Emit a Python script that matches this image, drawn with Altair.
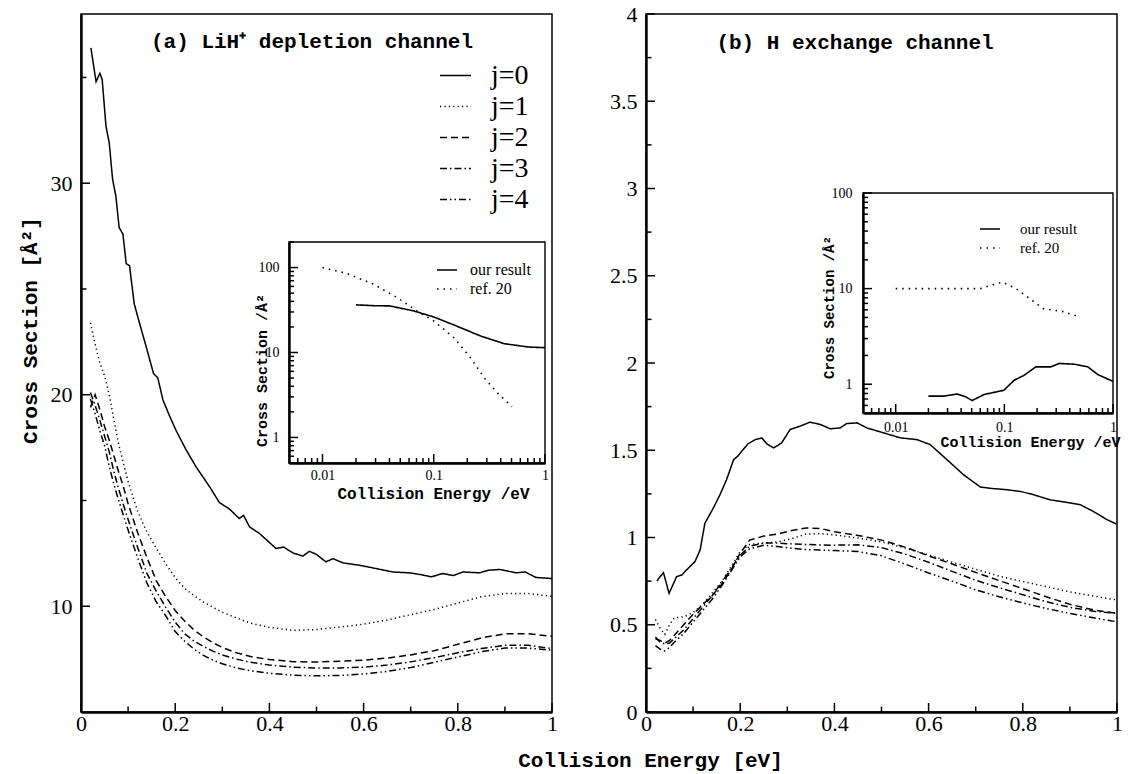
import altair as alt
import pandas as pd

# ---------------- data ----------------
series_names = ["j=0", "j=1", "j=2", "j=3", "j=4"]
inset_names = ["our result", "ref. 20"]

# (a) LiH+ depletion channel
a_x0 = [0.021, 0.032, 0.040, 0.045, 0.053, 0.060, 0.067, 0.074, 0.081, 0.089,
        0.096, 0.103, 0.113, 0.124, 0.138, 0.154, 0.163, 0.174, 0.188, 0.202,
        0.223, 0.244, 0.273, 0.294, 0.315, 0.336, 0.345, 0.358, 0.379, 0.414,
        0.430, 0.450, 0.471, 0.485, 0.499, 0.520, 0.535, 0.556, 0.591, 0.627,
        0.662, 0.697, 0.720, 0.744, 0.768, 0.790, 0.811, 0.846, 0.865, 0.889,
        0.924, 0.943, 0.966, 1.000]
a_j0 = [36.4, 34.8, 35.2, 34.9, 32.7, 31.9, 30.2, 29.4, 27.9, 27.6,
        26.2, 26.1, 24.3, 23.4, 22.3, 21.0, 20.8, 19.75, 19.0, 18.3,
        17.4, 16.6, 15.65, 14.9, 14.6, 14.15, 14.3, 13.75, 13.44, 12.73,
        12.8, 12.52, 12.37, 12.6, 12.46, 12.1, 12.25, 12.05, 11.94, 11.78,
        11.62, 11.58, 11.5, 11.39, 11.55, 11.45, 11.62, 11.58, 11.7, 11.74,
        11.58, 11.62, 11.36, 11.31]
a_x = [0.02, 0.03, 0.04, 0.05, 0.06, 0.07, 0.08, 0.09, 0.10, 0.12, 0.14, 0.16,
       0.18, 0.20, 0.22, 0.24, 0.26, 0.28, 0.30, 0.33, 0.36, 0.40, 0.45, 0.50,
       0.55, 0.60, 0.65, 0.70, 0.75, 0.80, 0.85, 0.90, 0.95, 1.00]
a_j1 = [23.4, 22.4, 21.5, 20.9, 20.0, 18.8, 17.65, 16.75, 15.9, 14.5, 13.5, 12.75,
        12.0, 11.35, 10.85, 10.5, 10.2, 9.95, 9.72, 9.45, 9.2, 9.0, 8.86, 8.9,
        9.02, 9.15, 9.35, 9.6, 9.85, 10.15, 10.45, 10.6, 10.6, 10.47]
a_j2 = [19.4, 20.0, 19.3, 18.5, 17.85, 17.1, 16.35, 15.65, 14.85, 13.5, 12.3, 11.2,
        10.45, 9.8, 9.3, 8.88, 8.55, 8.28, 8.05, 7.8, 7.62, 7.48, 7.38, 7.36,
        7.4, 7.45, 7.55, 7.7, 7.9, 8.2, 8.5, 8.7, 8.7, 8.58]
a_j3 = [20.1, 19.5, 18.8, 18.05, 17.3, 16.35, 15.55, 14.8, 14.1, 12.8, 11.55, 10.7,
        9.95, 9.25, 8.7, 8.35, 8.1, 7.88, 7.7, 7.5, 7.35, 7.22, 7.12, 7.08,
        7.08, 7.12, 7.22, 7.37, 7.57, 7.8, 8.0, 8.15, 8.15, 8.0]
a_j4 = [19.8, 19.1, 18.3, 17.6, 16.6, 15.75, 15.0, 14.3, 13.6, 12.3, 11.1, 10.2,
        9.55, 8.8, 8.35, 7.97, 7.68, 7.45, 7.28, 7.08, 6.95, 6.83, 6.74, 6.71,
        6.73, 6.8, 6.92, 7.1, 7.35, 7.6, 7.85, 8.02, 8.02, 7.92]

# (b) H exchange channel
b_x0 = [0.023, 0.037, 0.049, 0.065, 0.076, 0.086, 0.104, 0.115, 0.125, 0.143,
        0.157, 0.171, 0.186, 0.196, 0.203, 0.217, 0.232, 0.246, 0.256, 0.271,
        0.288, 0.306, 0.327, 0.348, 0.370, 0.391, 0.412, 0.426, 0.448, 0.469,
        0.504, 0.540, 0.575, 0.603, 0.639, 0.674, 0.710, 0.738, 0.766, 0.795,
        0.823, 0.858, 0.894, 0.922, 0.950, 0.979, 0.999]
b_j0 = [0.751, 0.799, 0.680, 0.776, 0.785, 0.814, 0.862, 0.929, 1.082, 1.169,
        1.245, 1.331, 1.446, 1.469, 1.494, 1.538, 1.561, 1.571, 1.538, 1.513,
        1.542, 1.619, 1.638, 1.661, 1.648, 1.623, 1.628, 1.653, 1.657, 1.628,
        1.600, 1.571, 1.561, 1.533, 1.446, 1.360, 1.289, 1.280, 1.274, 1.264,
        1.245, 1.216, 1.201, 1.188, 1.149, 1.102, 1.077]
b_x = [0.02, 0.03, 0.04, 0.05, 0.06, 0.08, 0.10, 0.12, 0.14, 0.16, 0.18, 0.20,
       0.22, 0.25, 0.28, 0.31, 0.34, 0.37, 0.40, 0.45, 0.50, 0.55, 0.60, 0.65,
       0.70, 0.75, 0.80, 0.85, 0.90, 0.95, 1.00]
b_j1 = [0.53, 0.48, 0.445, 0.50, 0.54, 0.545, 0.57, 0.615, 0.68, 0.745, 0.83, 0.92,
        0.96, 0.968, 0.975, 0.994, 1.02, 1.022, 1.015, 0.997, 0.975, 0.94, 0.90, 0.858,
        0.818, 0.778, 0.748, 0.718, 0.688, 0.665, 0.642]
b_j2 = [0.42, 0.41, 0.395, 0.41, 0.44, 0.50, 0.56, 0.615, 0.665, 0.73, 0.81, 0.91,
        0.985, 1.008, 1.02, 1.04, 1.055, 1.052, 1.033, 1.012, 0.985, 0.945, 0.895, 0.848,
        0.80, 0.753, 0.707, 0.66, 0.617, 0.585, 0.565]
b_j3 = [0.43, 0.40, 0.39, 0.395, 0.42, 0.47, 0.535, 0.60, 0.665, 0.74, 0.82, 0.90,
        0.95, 0.968, 0.968, 0.963, 0.96, 0.957, 0.956, 0.958, 0.942, 0.905, 0.858, 0.806,
        0.755, 0.712, 0.672, 0.632, 0.60, 0.578, 0.565]
b_j4 = [0.38, 0.36, 0.35, 0.37, 0.40, 0.45, 0.515, 0.58, 0.645, 0.72, 0.805, 0.89,
        0.935, 0.955, 0.948, 0.938, 0.931, 0.928, 0.925, 0.92, 0.895, 0.848, 0.797, 0.75,
        0.70, 0.66, 0.625, 0.593, 0.565, 0.54, 0.517]

# insets (log-log)
ia_our_x = [0.020, 0.030, 0.040, 0.066, 0.100, 0.152, 0.265, 0.430, 0.710, 1.000]
ia_our_y = [36.4, 35.5, 35.4, 30.9, 26.2, 21.1, 15.6, 12.7, 11.6, 11.4]
ia_ref_x = [0.010, 0.0163, 0.0285, 0.0465, 0.0706, 0.100, 0.152, 0.215, 0.285, 0.377, 0.505]
ia_ref_y = [100, 85.8, 64, 44.6, 30.9, 23.5, 14.9, 8.6, 5.0, 3.3, 2.3]
ib_our_x = [0.020, 0.0276, 0.0367, 0.0438, 0.0506, 0.065, 0.099, 0.123, 0.152,
            0.195, 0.268, 0.320, 0.440, 0.586, 0.726, 1.000]
ib_our_y = [0.75, 0.75, 0.79, 0.74, 0.675, 0.78, 0.865, 1.10, 1.24,
            1.52, 1.52, 1.65, 1.62, 1.52, 1.26, 1.07]
ib_ref_x = [0.010, 0.0223, 0.060, 0.0746, 0.096, 0.128, 0.170, 0.226, 0.347, 0.478]
ib_ref_y = [10, 10, 10, 10.8, 11.7, 10, 7.9, 6.2, 5.75, 5.1]

# axis domains and tick values
a_x_dom = [0, 1]
a_y_dom = [5, 38]
b_y_dom = [0, 4]
log_x_dom = [0.005, 1]
ia_y_dom = [0.5, 200]
ib_y_dom = [0.5, 100]

x_major = [0, 0.2, 0.4, 0.6, 0.8, 1.0]
x_minor = [0.1, 0.3, 0.5, 0.7, 0.9]
a_y_major = [10, 20, 30]
a_y_minor = [15, 25, 35]
b_y_major = [0, 0.5, 1, 1.5, 2, 2.5, 3, 3.5, 4]
b_y_minor = [0.25, 0.75, 1.25, 1.75, 2.25, 2.75, 3.25, 3.75]
log_x_major = [0.01, 0.1, 1]
log_x_minor = [0.006, 0.007, 0.008, 0.009, 0.02, 0.03, 0.04, 0.05, 0.06, 0.07,
               0.08, 0.09, 0.2, 0.3, 0.4, 0.5, 0.6, 0.7, 0.8, 0.9]
log_y_major = [1, 10, 100]
ia_y_minor = [0.6, 0.7, 0.8, 0.9, 2, 3, 4, 5, 6, 7, 8, 9, 20, 30, 40, 50, 60, 70, 80, 90, 200]
ib_y_minor = [0.6, 0.7, 0.8, 0.9, 2, 3, 4, 5, 6, 7, 8, 9, 20, 30, 40, 50, 60, 70, 80, 90]

title_a = ["(a) LiH\u207a depletion channel"]
title_b = ["(b) H exchange channel"]

# ---------------- layout (pixels within the plot area) ----------------
PW, PH = 1036, 698
A_XR, B_XR, MAIN_YR = [0, 471], [565, 1036], [698, 0]
IA_XR, IA_YR = [208, 464], [449, 228]
IB_XR, IB_YR = [782, 1032], [399, 179]

SERIF = "Liberation Serif"
MONO = "Liberation Mono"
dash_main = [[1, 0], [1.2, 3.2], [7, 4], [7, 3, 1.5, 3], [7, 3, 1.5, 3, 1.5, 3]]
dash_inset = [[1, 0], [1.5, 5]]


def long_df(pairs):
    frames = [pd.DataFrame({"x": xs, "y": ys, "s": name}) for name, xs, ys in pairs]
    return pd.concat(frames, ignore_index=True)


def lin(dom, rng):
    return alt.Scale(domain=dom, range=rng, nice=False, zero=False)


def logs(dom, rng):
    return alt.Scale(type="log", domain=dom, range=rng, nice=False)


def axis(**kw):
    base = dict(ticks=False, tickSize=0, grid=False, labelFont=SERIF, labelColor="black",
                labelFlush=False, labelOverlap=False, domainColor="black",
                titleFont=MONO, titleFontWeight="bold", titleColor="black")
    base.update(kw)
    return alt.Axis(**base)


def frame(xs, ys, xdom, ydom, sw):
    df = pd.DataFrame({"x0": [xdom[0]], "x1": [xdom[1]], "y0": [ydom[0]], "y1": [ydom[1]]})
    return alt.Chart(df).mark_rect(filled=False, stroke="black", strokeWidth=sw).encode(
        x=alt.X("x0:Q", scale=xs, axis=None), x2="x1:Q",
        y=alt.Y("y0:Q", scale=ys, axis=None), y2="y1:Q")


def ticks(xs, ys, xdom, ydom, xmaj, xmin, ymaj, ymin, lmaj, lmin):
    out = []
    for vals, ln in ((xmaj, lmaj), (xmin, lmin)):
        df = pd.DataFrame({"v": vals, "b": ydom[0]})
        out.append(alt.Chart(df).mark_rule(color="black", strokeWidth=1.5, y2Offset=-ln).encode(
            x=alt.X("v:Q", scale=xs, axis=None),
            y=alt.Y("b:Q", scale=ys, axis=None), y2="b:Q"))
    for vals, ln in ((ymaj, lmaj), (ymin, lmin)):
        df = pd.DataFrame({"v": vals, "b": xdom[0]})
        out.append(alt.Chart(df).mark_rule(color="black", strokeWidth=1.5, x2Offset=ln).encode(
            y=alt.Y("v:Q", scale=ys, axis=None),
            x=alt.X("b:Q", scale=xs, axis=None), x2="b:Q"))
    return out


# ---------------- panel (a) ----------------
xsA, ysA = lin(a_x_dom, A_XR), lin(a_y_dom, MAIN_YR)
dfA = long_df([("j=0", a_x0, a_j0), ("j=1", a_x, a_j1), ("j=2", a_x, a_j2),
               ("j=3", a_x, a_j3), ("j=4", a_x, a_j4)])
linesA = alt.Chart(dfA).mark_line(color="black", strokeWidth=1.5).encode(
    x=alt.X("x:Q", scale=xsA,
            axis=axis(orient="bottom", values=x_major, format="~g", labelFontSize=22,
                      labelPadding=1, domainWidth=2.4, title="Collision Energy [eV]",
                      titleFontSize=21, titleX=569, titleY=48, titleBaseline="middle",
                      titleAlign="center")),
    y=alt.Y("y:Q", scale=ysA,
            axis=axis(orient="left", values=a_y_major, format="d", labelFontSize=22,
                      labelPadding=9, domainWidth=2.4, title="Cross Section [Å²]",
                      titleFontSize=21, titleAngle=270, titleX=-51, titleY=316,
                      titleBaseline="middle", titleAlign="center")),
    strokeDash=alt.StrokeDash(
        "s:N", title=None, scale=alt.Scale(domain=series_names, range=dash_main),
        legend=alt.Legend(orient="none", legendX=358, legendY=45, symbolType="stroke",
                          symbolSize=961, symbolStrokeWidth=1.5, symbolStrokeColor="black",
                          labelFont=SERIF, labelFontSize=28, labelColor="black",
                          labelOffset=19, rowPadding=0, padding=0)),
)
textA = alt.Chart(pd.DataFrame({"t": title_a})).mark_text(
    font=MONO, fontWeight="bold", fontSize=21, color="black", align="center", baseline="middle"
).encode(text="t:N", x=alt.value(231), y=alt.value(28))
partsA = [frame(xsA, ysA, a_x_dom, a_y_dom, 1.5),
          *ticks(xsA, ysA, a_x_dom, a_y_dom, x_major, x_minor, a_y_major, a_y_minor, 9, 5.5),
          linesA, textA]

# ---------------- panel (b) ----------------
xsB, ysB = lin(a_x_dom, B_XR), lin(b_y_dom, MAIN_YR)
dfB = long_df([("j=0", b_x0, b_j0), ("j=1", b_x, b_j1), ("j=2", b_x, b_j2),
               ("j=3", b_x, b_j3), ("j=4", b_x, b_j4)])
linesB = alt.Chart(dfB).mark_line(color="black", strokeWidth=1.5).encode(
    x=alt.X("x:Q", scale=xsB, title=None,
            axis=axis(orient="bottom", values=x_major, format="~g", labelFontSize=22,
                      labelPadding=1, domainWidth=2.4)),
    y=alt.Y("y:Q", scale=ysB, title=None,
            axis=axis(orient="left", offset=-565, values=b_y_major, format="~g",
                      labelFontSize=22, labelPadding=9, domainWidth=2.4)),
    strokeDash=alt.StrokeDash("s:N", scale=alt.Scale(domain=series_names, range=dash_main),
                              legend=None),
)
textB = alt.Chart(pd.DataFrame({"t": title_b})).mark_text(
    font=MONO, fontWeight="bold", fontSize=21, color="black", align="center", baseline="middle"
).encode(text="t:N", x=alt.value(774), y=alt.value(29))
partsB = [frame(xsB, ysB, a_x_dom, b_y_dom, 1.5),
          *ticks(xsB, ysB, a_x_dom, b_y_dom, x_major, x_minor, b_y_major, b_y_minor, 9, 5.5),
          linesB, textB]


# ---------------- insets ----------------
def inset(xr, yr, ydom, yminor, our_x, our_y, ref_x, ref_y, xoff, yoff,
          xt, yt, leg_x, leg_y, lab_off, fs_title, fs_leg, xlabpad, ylabpad):
    xs, ys = logs(log_x_dom, xr), logs(ydom, yr)
    df = long_df([("our result", our_x, our_y), ("ref. 20", ref_x, ref_y)])
    lines = alt.Chart(df).mark_line(color="black", strokeWidth=1.6).encode(
        x=alt.X("x:Q", scale=xs,
                axis=axis(orient="bottom", offset=xoff, values=log_x_major, format="~g",
                          labelFontSize=14, labelPadding=xlabpad, domainWidth=2.4,
                          title="Collision Energy /eV", titleFontSize=fs_title,
                          titleX=xt[0], titleY=xt[1], titleBaseline="middle",
                          titleAlign="center")),
        y=alt.Y("y:Q", scale=ys,
                axis=axis(orient="left", offset=yoff, values=log_y_major, format="~g",
                          labelFontSize=14, labelPadding=ylabpad, domainWidth=2.4,
                          title="Cross Section /Å²", titleFontSize=fs_title - 1,
                          titleAngle=270, titleX=yt[0], titleY=yt[1],
                          titleBaseline="middle", titleAlign="center")),
        strokeDash=alt.StrokeDash(
            "s:N", title=None, scale=alt.Scale(domain=inset_names, range=dash_inset),
            legend=alt.Legend(orient="none", legendX=leg_x, legendY=leg_y, symbolType="stroke",
                              symbolSize=400, symbolStrokeWidth=1.6, symbolStrokeColor="black",
                              labelFont=SERIF, labelFontSize=fs_leg, labelColor="black",
                              labelOffset=lab_off, rowPadding=0, padding=0)),
    )
    return [frame(xs, ys, log_x_dom, ydom, 1.4),
            *ticks(xs, ys, log_x_dom, ydom, log_x_major, log_x_minor, log_y_major, yminor, 9, 5),
            lines]


partsIA = inset(IA_XR, IA_YR, ia_y_dom, ia_y_minor, ia_our_x, ia_our_y, ia_ref_x, ia_ref_y,
                -249, -208, (352, 30), (-28, 356), 355, 245, 12, 16, 16, 5, 10)
partsIB = inset(IB_XR, IB_YR, ib_y_dom, ib_y_minor, ib_our_x, ib_our_y, ib_ref_x, ib_ref_y,
                -299, -782, (949, 28), (-34, 293), 898, 204, 19, 15, 15, 7, 11)

chart = alt.layer(*partsA, *partsB, *partsIA, *partsIB).resolve_scale(
    x="independent", y="independent", strokeDash="independent"
).resolve_axis(x="independent", y="independent").resolve_legend(
    strokeDash="independent"
).properties(
    width=PW, height=PH, background="white",
    autosize=alt.AutoSizeParams(type="none"),
    padding={"left": 81, "top": 14, "right": 11, "bottom": 62},
).configure_view(strokeWidth=0)

chart.save("out.html", embed_options={"renderer": "svg", "actions": False})
